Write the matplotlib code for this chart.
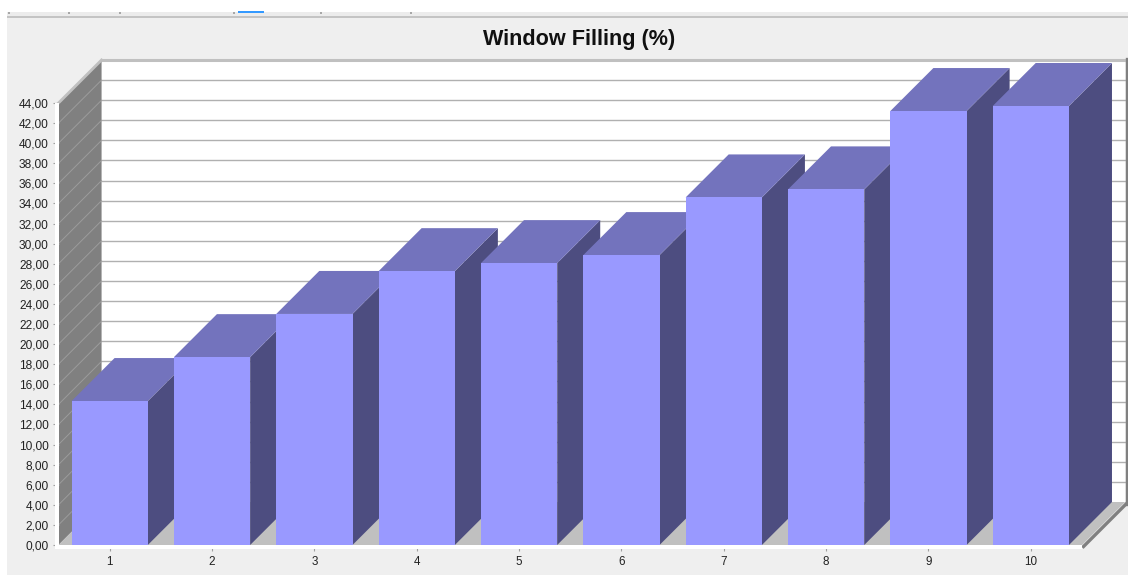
import numpy as np
import matplotlib
matplotlib.use('Agg')
import matplotlib.pyplot as plt
from matplotlib.patches import Rectangle

plt.rcParams['font.family'] = ['Liberation Sans', 'DejaVu Sans']

categories = ['1', '2', '3', '4', '5', '6', '7', '8', '9', '10']
filling = [14.33, 18.7, 23.0, 27.26, 28.06, 28.86, 34.6, 35.4, 43.2, 43.7]
y_ticks = np.arange(0, 46, 2)

title = 'Window Filling (%)'

W, H = 1128, 575
FRONT, SIDE, TOP = '#9999ff', '#4d4d80', '#7373bd'
WALL, FLOOR, GRID = '#808080', '#c0c0c0', '#b0b0b0'

fig = plt.figure(figsize=(W/100., H/100.), dpi=100, facecolor='white')

# window frame behind the chart
fig.patches.append(Rectangle((7/W, 0), 1-7/W, 1-18/H, transform=fig.transFigure, fc='#efefef', ec='none', zorder=-3))
fig.patches.append(Rectangle((7/W, 1-18/H), 1-7/W, 6/H, transform=fig.transFigure, fc='#ececec', ec='none', zorder=-3))
fig.patches.append(Rectangle((7/W, 1-18/H), 1-7/W, 2/H, transform=fig.transFigure, fc='#c4c4c4', ec='none', zorder=-2))
fig.patches.append(Rectangle((238/W, 1-13/H), 26/W, 2/H, transform=fig.transFigure, fc='#3399ff', ec='none', zorder=-2))
# toolbar separators
for px in [8, 68, 119, 233, 320, 410]:
    fig.patches.append(Rectangle((px/W, 1-14/H), 1.5/W, 2.5/H, transform=fig.transFigure, fc='#a8a8a8', ec='none', zorder=-2))

# axes spans the front plane of the 3D box
ax = fig.add_axes([58.5/W, 1-545./H, 1023.5/W, 442./H])
ax.set_xlim(0.5, 10.5)
ax.set_ylim(0, 44)
ax.patch.set_visible(False)

# depth of the box in data units (43 px either way)
dx = 43*10/1023.
dy = 43*44/442.
x0, x1 = 0.5, 10.5
ymax = y_ticks[-1]
bar_w = 0.745

# back wall, with its gridlines
ax.fill([x0+dx, x1+dx, x1+dx, x0+dx], [dy, dy, ymax+dy, ymax+dy], color='white', lw=0, clip_on=False, zorder=1)
for v in y_ticks[1:]:
    ax.plot([x0+dx, x1+dx], [v+dy, v+dy], color=GRID, lw=1.0, clip_on=False, zorder=1.1)
ax.plot([x0+dx, x1+dx], [ymax+dy, ymax+dy], color=FLOOR, lw=2.2, clip_on=False, zorder=1.2)

# left wall
ax.fill([x0, x0+dx, x0+dx, x0], [0, dy, ymax+dy, ymax], color=WALL, lw=0, clip_on=False, zorder=1.3)
for v in y_ticks[1:-1]:
    ax.plot([x0, x0+dx], [v, v+dy], color='#9c9c9c', lw=0.7, clip_on=False, zorder=1.4)
ax.plot([x0, x0+dx], [ymax, ymax+dy], color=FLOOR, lw=2.0, clip_on=False, zorder=1.5)

# floor and the outer right edge
ax.fill([x0, x1, x1+dx, x0+dx], [0, 0, dy, dy], color=FLOOR, lw=0, clip_on=False, zorder=1.6)
ax.plot([x1+0.015, x1+dx+0.015], [-0.15, dy-0.15], color=WALL, lw=2.4, clip_on=False, zorder=1.7)
ax.plot([x1+dx+0.015, x1+dx+0.015], [dy-0.15, ymax+dy+0.1], color=WALL, lw=2.4, clip_on=False, zorder=1.7)

# white strip along the front edge and beside the wall
ax.fill([x0, x1, x1, x0], [0, 0, -0.4, -0.4], color='white', lw=0, clip_on=False, zorder=1.8)
ax.fill([x0-0.035, x0, x0, x0-0.035], [-0.4, -0.4, ymax, ymax], color='white', lw=0, clip_on=False, zorder=1.8)

# bars, left to right so each one hides the side of the previous one
for i, v in enumerate(filling):
    xl = i + 1 - bar_w/2.
    xr = i + 1 + bar_w/2.
    ax.fill([xr, xr+dx, xr+dx, xr], [0, dy, v+dy, v], color=SIDE, lw=0, clip_on=False, zorder=2+i*0.1)
    ax.fill([xl, xr, xr+dx, xl+dx], [v, v, v+dy, v+dy], color=TOP, lw=0, clip_on=False, zorder=2+i*0.1)
    ax.fill([xl, xr, xr, xl], [0, 0, v, v], color=FRONT, lw=0, clip_on=False, zorder=2+i*0.1+0.01)

for s in ax.spines.values():
    s.set_visible(False)
ax.set_xticks(range(1, 11))
ax.set_xticklabels(categories)
ax.set_yticks(y_ticks)
ax.set_yticklabels(['{:.2f}'.format(v).replace('.', ',') for v in y_ticks])
ax.tick_params(axis='x', length=4, width=0.8, color='#a0a0a0', labelsize=8.4, pad=4, labelcolor='#222222')
ax.tick_params(axis='y', length=4, width=0.8, color='#a0a0a0', labelsize=8.6, pad=3, labelcolor='#222222')

fig.text(579./W, 1-39.5/H, title, ha='center', va='center', fontsize=15.6, fontweight='bold', color='#111111')

plt.savefig('out.png', dpi=100, facecolor=fig.get_facecolor())
